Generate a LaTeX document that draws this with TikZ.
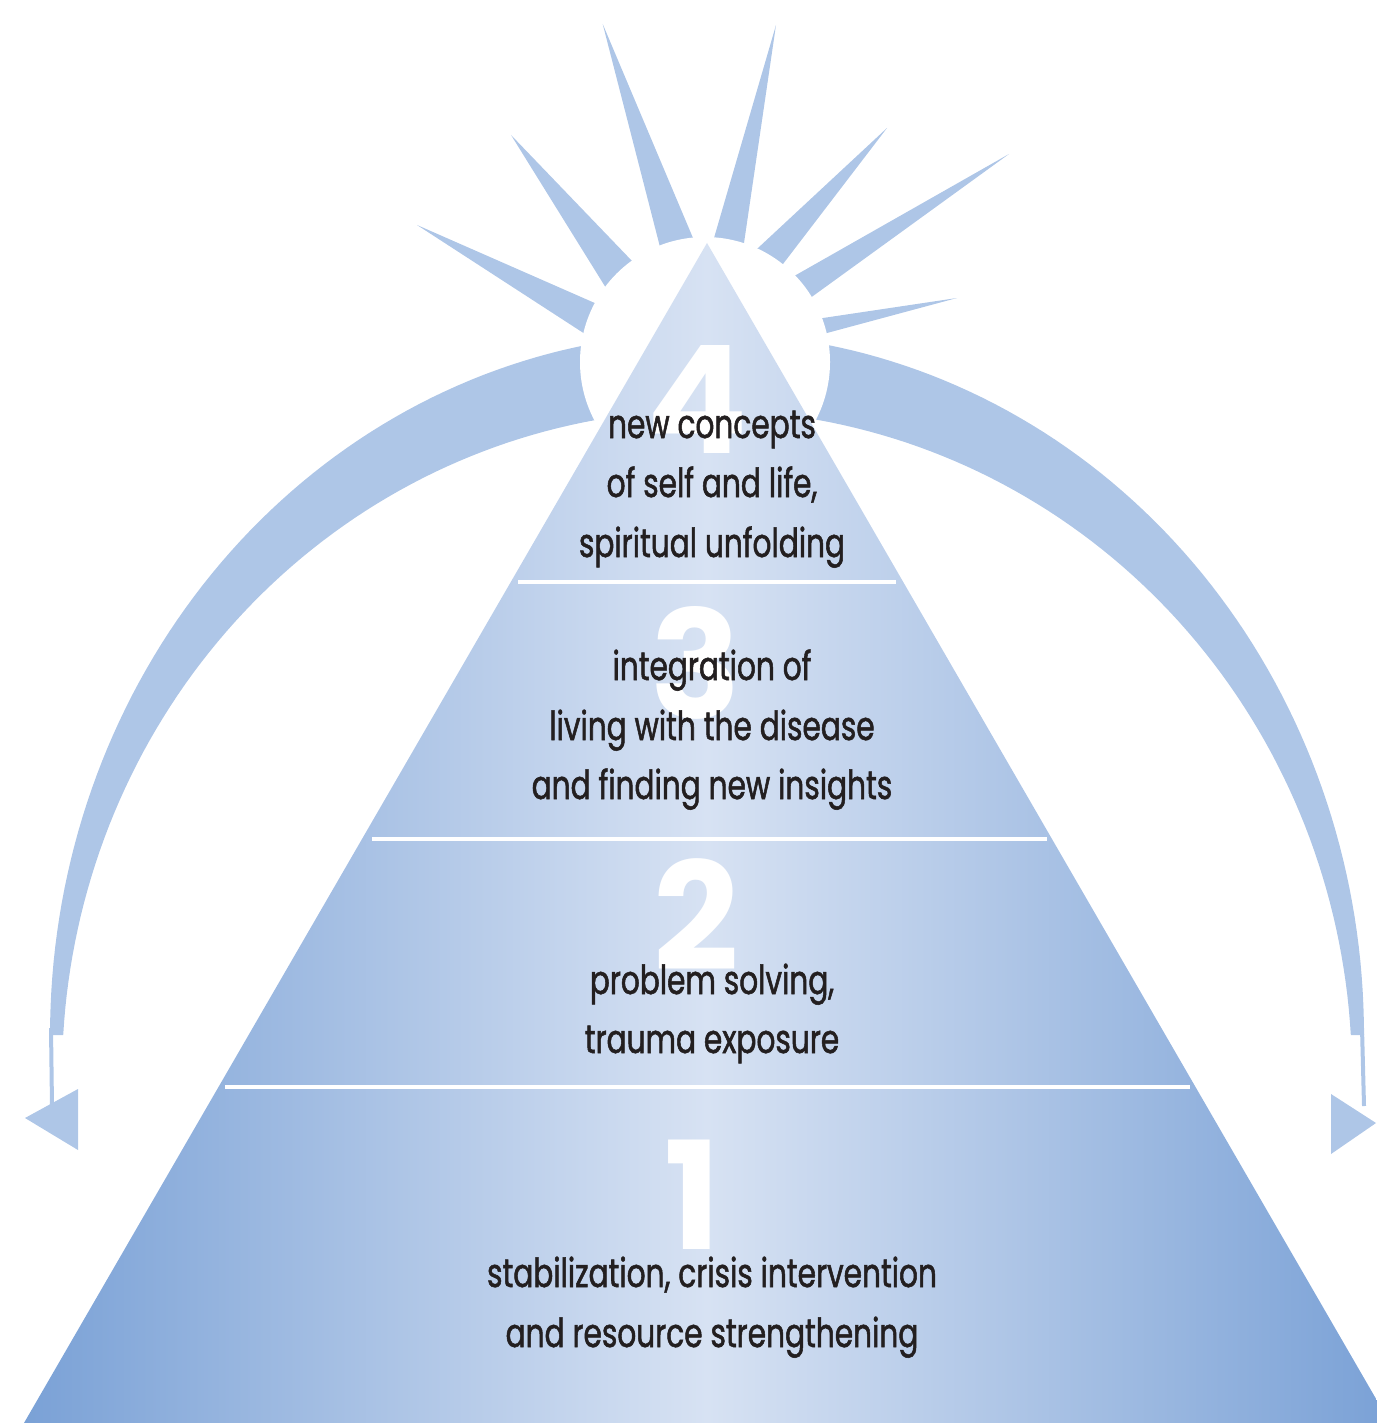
\documentclass[tikz,border=0pt]{standalone}
\usepackage{fontspec}
\setmainfont{Poppins}
\newfontfamily\txtfont[FakeStretch=0.74, FakeBold=1.3]{Poppins}
\usetikzlibrary{calc}
\definecolor{bandcol}{RGB}{174,198,231}
\definecolor{pyredge}{RGB}{122,161,214}
\definecolor{pyrmid}{RGB}{215,226,243}
\definecolor{txtcol}{RGB}{35,31,32}
\tikzset{
  rayfill/.style={fill=bandcol},
  divline/.style={draw=white, line width=4pt},
  numlbl/.style={text=white, font=\fontsize{150}{150}\selectfont\bfseries, anchor=base, inner sep=0pt},
  txtlbl/.style={text=txtcol, font=\txtfont\fontsize{40}{60}\selectfont, anchor=base, inner sep=0pt},
}
\begin{document}
\begin{tikzpicture}[x=1pt,y=-1pt]
\useasboundingbox (0,0) rectangle (1376,1423);
% arc band
\fill[bandcol] plot[domain=180:0, samples=150] ({707+657*cos(\x)},{1035-702*sin(\x)})
  -- plot[domain=3.45:176.55, samples=150] ({707+645*cos(\x)},{1075-665*sin(\x)}) -- cycle;
% thin tails
\draw[bandcol, line width=4pt] (51,1028) -- (52,1106);
\draw[bandcol, line width=4pt] (1362,1028) -- (1364,1106);
% arrowheads
\coordinate (lt) at (25,1118);
\coordinate (rt) at (1376,1123);
\fill[bandcol] (lt) -- (78,1089) -- (78,1150) -- cycle;
\fill[bandcol] (rt) -- (1331,1094) -- (1331,1154) -- cycle;
% rays
\foreach \tx/\ty/\ax/\ay/\bx/\by in {
  602.7/24/660/247/693/238,
  511/135/606/288/633/262,
  417/225/585/334/597/304,
  776/25/714/238/744/243,
  887/128/758/248/783/264,
  1009/154/796/275/813/296,
  957/298/823/318/827/333}{
  \fill[bandcol] (\tx,\ty) -- ($(\tx,\ty)!1.12!(\ax,\ay)$) -- ($(\tx,\ty)!1.12!(\bx,\by)$) -- cycle;
}
% sun disc
\fill[white] (705,362) circle[radius=125pt];
% pyramid
\shade[left color=pyredge, right color=pyredge, middle color=pyrmid]
  (707,243) -- (24,1423) -- (1390,1423) -- cycle;
% dividers
\draw[divline] (518,582) -- (896,582);
\draw[divline] (372,839) -- (1047,839);
\draw[divline] (225,1087) -- (1190,1087);
% numbers
\node[numlbl] (n4) at (697,453) {4};
\node[numlbl] (n3) at (696,718) {3};
\node[numlbl] (n2) at (696,970) {2};
\node[numlbl] (n1) at (693,1249) {1};
% texts
\node[txtlbl] (t4a) at (712,438) {new concepts};
\node[txtlbl] (t4b) at (712,497) {of self and life,};
\node[txtlbl] (t4c) at (712,557) {spiritual unfolding};
\node[txtlbl] (t3a) at (712,680) {integration of};
\node[txtlbl] (t3b) at (712,740) {living with the disease};
\node[txtlbl] (t3c) at (712,799) {and finding new insights};
\node[txtlbl] (t2a) at (712,994) {problem solving,};
\node[txtlbl] (t2b) at (712,1053) {trauma exposure};
\node[txtlbl] (t1a) at (712,1287) {stabilization, crisis intervention};
\node[txtlbl] (t1b) at (712,1347) {and resource strengthening};
\end{tikzpicture}
\end{document}
